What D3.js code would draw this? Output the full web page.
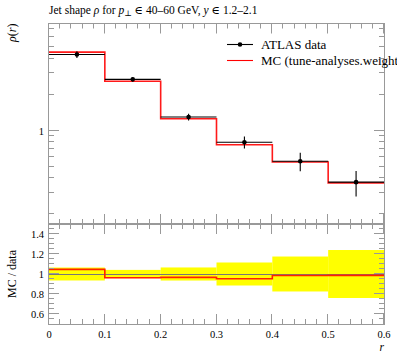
<!DOCTYPE html>
<html><head><meta charset="utf-8">
<script src="https://cdn.jsdelivr.net/npm/d3@7"></script>
<style>body{margin:0;background:#fff}svg{display:block}</style>
</head><body>
<script>
const binEdges = [0, 0.1, 0.2, 0.3, 0.4, 0.5, 0.6];
const dataVals = [4.32, 2.68, 1.30, 0.80, 0.555, 0.371];
const dataErrs = [0.28, 0.11, 0.085, 0.092, 0.097, 0.089];
const mcVals   = [4.52, 2.58, 1.256, 0.762, 0.547, 0.366];
const xMajor = [0, 0.1, 0.2, 0.3, 0.4, 0.5, 0.6];
const xTickLabels = ["0","0.1","0.2","0.3","0.4","0.5","0.6"];
const yMainMinor = [0.2,0.3,0.4,0.5,0.6,0.7,0.8,0.9,2,3,4,5,6,7];
const yMainMajor = [1];
const yMainLabels = ["1"];
const rMajor = [0.6, 0.8, 1.0, 1.2, 1.4];
const rLabels = ["0.6","0.8","1","1.2","1.4"];
const legendLabels = ["ATLAS data", "MC (tune-analyses.weight"];

const W = 397, H = 358;
const L = 49, R = 384, T = 23.5, M = 224, B = 324;
const svg = d3.select("body").append("svg").attr("width", W).attr("height", H)
  .attr("font-family", "'Liberation Serif', 'DejaVu Serif', serif");

const x = d3.scaleLinear().domain([0, 0.6]).range([L, R]);
const y = d3.scaleLog().domain([0.166, 7.84]).range([M, T]);
const yr = d3.scaleLinear().domain([0.5, 1.5]).range([B, M]);

const frameCol = "#999";
const px = v => Math.round(v) + 0.5;

// ratio band
const g2 = svg.append("g");
g2.selectAll("rect.band").data(dataVals).join("rect")
  .attr("x", (d,i) => x(binEdges[i])).attr("width", (d,i) => x(binEdges[i+1]) - x(binEdges[i]))
  .attr("y", (d,i) => yr(1 + dataErrs[i]/d))
  .attr("height", (d,i) => yr(1 - dataErrs[i]/d) - yr(1 + dataErrs[i]/d))
  .attr("fill", "#ffff00");
g2.append("line").attr("x1", L).attr("x2", R).attr("y1", px(yr(1))).attr("y2", px(yr(1)))
  .attr("stroke", "#777").attr("stroke-width", 1);

const stepPts = (vals) => { const p = vals.map((v,i) => [binEdges[i], v]); p.push([binEdges[vals.length], vals[vals.length-1]]); return p; };
const ratioVals = mcVals.map((m,i) => m / dataVals[i]);
g2.append("path").attr("d", d3.line().x(d => x(d[0])).y(d => yr(d[1])).curve(d3.curveStepAfter)(stepPts(ratioVals)))
  .attr("fill", "none").attr("stroke", "#ff2000").attr("stroke-width", 1.6);

// main panel MC
const g1 = svg.append("g");
g1.append("path").attr("d", d3.line().x(d => x(d[0])).y(d => y(d[1])).curve(d3.curveStepAfter)(stepPts(mcVals)))
  .attr("fill", "none").attr("stroke", "#ff0000").attr("stroke-width", 1.6).attr("stroke-opacity", 0.9);

// data
g1.selectAll("line.h").data(dataVals).join("line")
  .attr("x1", (d,i) => x(binEdges[i])).attr("x2", (d,i) => x(binEdges[i+1]))
  .attr("y1", d => y(d)).attr("y2", d => y(d)).attr("stroke", "#000").attr("stroke-width", 1.1);
g1.selectAll("line.v").data(dataVals).join("line")
  .attr("x1", (d,i) => x((binEdges[i]+binEdges[i+1])/2)).attr("x2", (d,i) => x((binEdges[i]+binEdges[i+1])/2))
  .attr("y1", (d,i) => y(d + dataErrs[i])).attr("y2", (d,i) => y(d - dataErrs[i])).attr("stroke", "#000").attr("stroke-width", 1.1);
g1.selectAll("circle").data(dataVals).join("circle")
  .attr("cx", (d,i) => x((binEdges[i]+binEdges[i+1])/2)).attr("cy", d => y(d)).attr("r", 2.3).attr("fill", "#000");

// frames
const ax = svg.append("g").attr("stroke", frameCol).attr("stroke-width", 1).attr("fill", "none");
ax.append("rect").attr("x", px(L)-1).attr("y", px(T)-1).attr("width", px(R)-px(L)+1).attr("height", px(M)-px(T)+1);
ax.append("rect").attr("x", px(L)-1).attr("y", px(M)-1).attr("width", px(R)-px(L)+1).attr("height", px(B)-px(M)+1);

function vtick(xv, y0, len) { ax.append("line").attr("x1", px(xv)-1).attr("x2", px(xv)-1).attr("y1", y0).attr("y2", y0 + len); }
function htick(yv, x0, len) { ax.append("line").attr("y1", px(yv)-1).attr("y2", px(yv)-1).attr("x1", x0).attr("x2", x0 + len); }

const xMinor = d3.range(0, 0.6001, 0.02).filter(v => Math.abs(v*10 - Math.round(v*10)) > 1e-6);
[[T, M], [M, B]].forEach(([t, b]) => {
  xMajor.forEach(v => { vtick(x(v), t, 10); vtick(x(v), b, -10); });
  xMinor.forEach(v => { vtick(x(v), t, 5); vtick(x(v), b, -5); });
});
yMainMajor.forEach(v => { htick(y(v), L, 10); htick(y(v), R, -10); });
yMainMinor.forEach(v => { htick(y(v), L, 5); htick(y(v), R, -5); });
const rMinor = d3.range(0.55, 1.5, 0.05).filter(v => !rMajor.some(m => Math.abs(m - v) < 1e-6));
rMajor.forEach(v => { htick(yr(v), L, 10); htick(yr(v), R, -10); });
rMinor.forEach(v => { htick(yr(v), L, 5); htick(yr(v), R, -5); });

// tick labels
const fs = 10.5;
svg.selectAll("text.yl").data(yMainMajor).join("text").attr("x", 44).attr("y", d => y(d) + 4)
  .attr("text-anchor", "end").attr("font-size", fs).text((d,i) => yMainLabels[i]);
svg.selectAll("text.rl").data(rMajor).join("text").attr("x", 44).attr("y", d => yr(d) + 4)
  .attr("text-anchor", "end").attr("font-size", fs).text((d,i) => rLabels[i]);
svg.selectAll("text.xl").data(xMajor).join("text").attr("x", d => x(d)).attr("y", 338)
  .attr("text-anchor", "middle").attr("font-size", fs).text((d,i) => xTickLabels[i]);

// axis labels
svg.append("text").attr("x", R).attr("y", 351).attr("text-anchor", "end").attr("font-size", 11.5)
  .attr("font-style", "italic").text("r");
const yl = svg.append("text").attr("transform", `translate(16,${T}) rotate(-90)`).attr("text-anchor", "end").attr("font-size", 12);
yl.append("tspan").attr("font-style", "italic").text("ρ");
yl.append("tspan").text("(");
yl.append("tspan").attr("font-style", "italic").text("r");
yl.append("tspan").text(")");
svg.append("text").attr("transform", `translate(16,${yr(1)}) rotate(-90)`).attr("text-anchor", "middle")
  .attr("font-size", 12).text("MC / data");

// title
const tt = svg.append("text").attr("x", L).attr("y", 14).attr("font-size", 11.5);
tt.append("tspan").text("Jet shape ");
tt.append("tspan").attr("font-style", "italic").text("ρ");
tt.append("tspan").text(" for ");
tt.append("tspan").attr("font-style", "italic").text("p");
tt.append("tspan").attr("font-size", 8).attr("dy", 2).text("⊥");
tt.append("tspan").attr("dy", -2).text(" ∈ 40–60 GeV, ");
tt.append("tspan").attr("font-style", "italic").text("y");
tt.append("tspan").text(" ∈ 1.2–2.1");

// legend
const lg = svg.append("g");
lg.append("line").attr("x1", 227).attr("x2", 253).attr("y1", 44.5).attr("y2", 44.5).attr("stroke", "#000").attr("stroke-width", 1.1);
lg.append("circle").attr("cx", 240).attr("cy", 44.5).attr("r", 2.3).attr("fill", "#000");
lg.append("line").attr("x1", 227).attr("x2", 253).attr("y1", 60.5).attr("y2", 60.5).attr("stroke", "#ff0000").attr("stroke-width", 1.1);
lg.selectAll("text").data(legendLabels).join("text").attr("x", 261).attr("y", (d,i) => 48.5 + i*16)
  .attr("font-size", 13).text(d => d);
</script>
</body></html>
